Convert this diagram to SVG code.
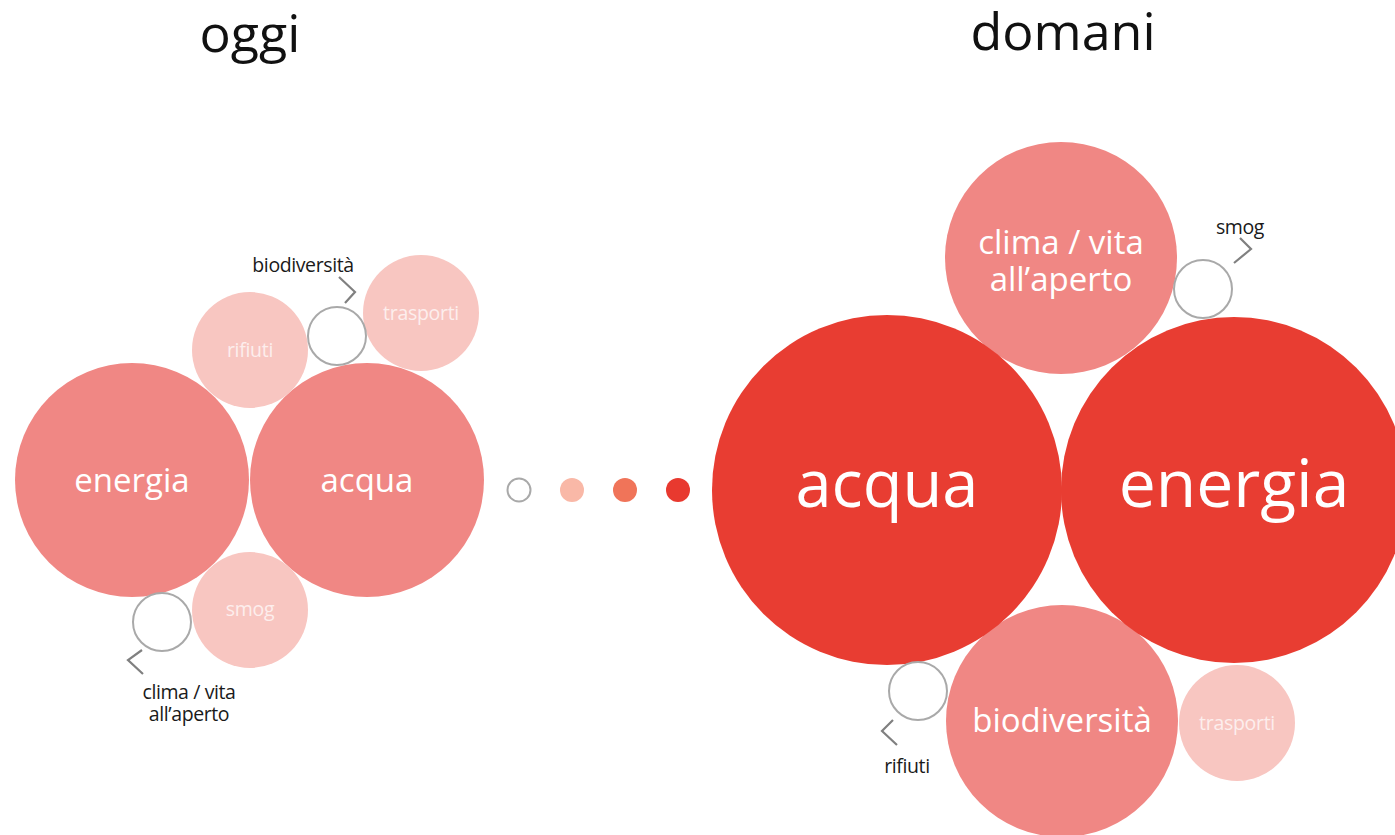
<svg xmlns="http://www.w3.org/2000/svg" width="1395" height="835" viewBox="0 0 1395 835">
<style>
text{font-family:"Open Sans","Noto Sans",sans-serif;text-anchor:middle}
.mid{fill:#f08784}
.lt{fill:#f8c6c1}
.red{fill:#e83d32}
.emp{fill:#fff;stroke:#a9a9a9;stroke-width:2}
.chev{fill:none;stroke:#808080;stroke-width:2.2}
.w{fill:#fff}
.wl{fill:#fdeeed;font-size:19.5px;letter-spacing:-0.3px}
.k{fill:#1a1a1a;font-size:19.5px;letter-spacing:-0.4px}
.title{fill:#111;font-size:52px}
</style>
<rect width="1395" height="835" fill="#fff"/>
<g id="titles">
<text class="title" x="250" y="52">oggi</text>
<text class="title" x="1063" y="50">domani</text>
</g>
<g id="oggi-energia"><circle class="mid" cx="132" cy="480" r="117"/><text class="w" x="132" y="492" font-size="33">energia</text></g>
<g id="oggi-acqua"><circle class="mid" cx="367" cy="480" r="117"/><text class="w" x="367" y="492" font-size="33">acqua</text></g>
<g id="oggi-rifiuti"><circle class="lt" cx="250" cy="350" r="58"/><text class="wl" x="250" y="357">rifiuti</text></g>
<g id="oggi-trasporti"><circle class="lt" cx="421" cy="313" r="58"/><text class="wl" x="421" y="320">trasporti</text></g>
<g id="oggi-smog"><circle class="lt" cx="250" cy="610" r="58"/><text class="wl" x="250" y="616">smog</text></g>
<g id="oggi-biodiversita"><circle class="emp" cx="337" cy="336" r="29"/><text class="k" x="303" y="272">biodiversità</text></g>
<g id="oggi-clima"><circle class="emp" cx="162" cy="622" r="29"/><text class="k" x="189" y="699"><tspan x="189">clima / vita</tspan><tspan x="189" dy="22">all’aperto</tspan></text></g>
<g id="dots">
<circle class="emp" cx="519" cy="490" r="11.5"/>
<circle cx="572" cy="490" r="12" fill="#f9b8a7"/>
<circle cx="625" cy="490" r="12" fill="#f07459"/>
<circle cx="678" cy="490" r="12" fill="#e8392f"/>
</g>
<g id="domani-clima"><circle class="mid" cx="1061" cy="258" r="116"/><text class="w" x="1061" y="254" font-size="33"><tspan x="1061">clima / vita</tspan><tspan x="1061" dy="37">all’aperto</tspan></text></g>
<g id="domani-biodiversita"><circle class="mid" cx="1062" cy="721" r="116"/><text class="w" x="1062" y="732" font-size="33">biodiversità</text></g>
<g id="domani-acqua"><circle class="red" cx="887" cy="490" r="175"/><text class="w" x="887" y="507" font-size="65">acqua</text></g>
<g id="domani-energia"><circle class="red" cx="1234" cy="490" r="173"/><text class="w" x="1234" y="507" font-size="66">energia</text></g>
<g id="domani-trasporti"><circle class="lt" cx="1237" cy="723" r="58"/><text class="wl" x="1237" y="730">trasporti</text></g>
<g id="domani-smog"><circle class="emp" cx="1203" cy="289" r="29"/><text class="k" x="1240" y="234">smog</text></g>
<g id="domani-rifiuti"><circle class="emp" cx="918" cy="691" r="29"/><text class="k" x="907" y="773">rifiuti</text></g>
<g id="connectors">
<polyline class="chev" points="339,277 355,292 345,303"/>
<polyline class="chev" points="142,650 128,660 143,674"/>
<polyline class="chev" points="1240,238 1251,249 1234,263"/>
<polyline class="chev" points="893,720 882,731 897,745"/>
</g>
</svg>
